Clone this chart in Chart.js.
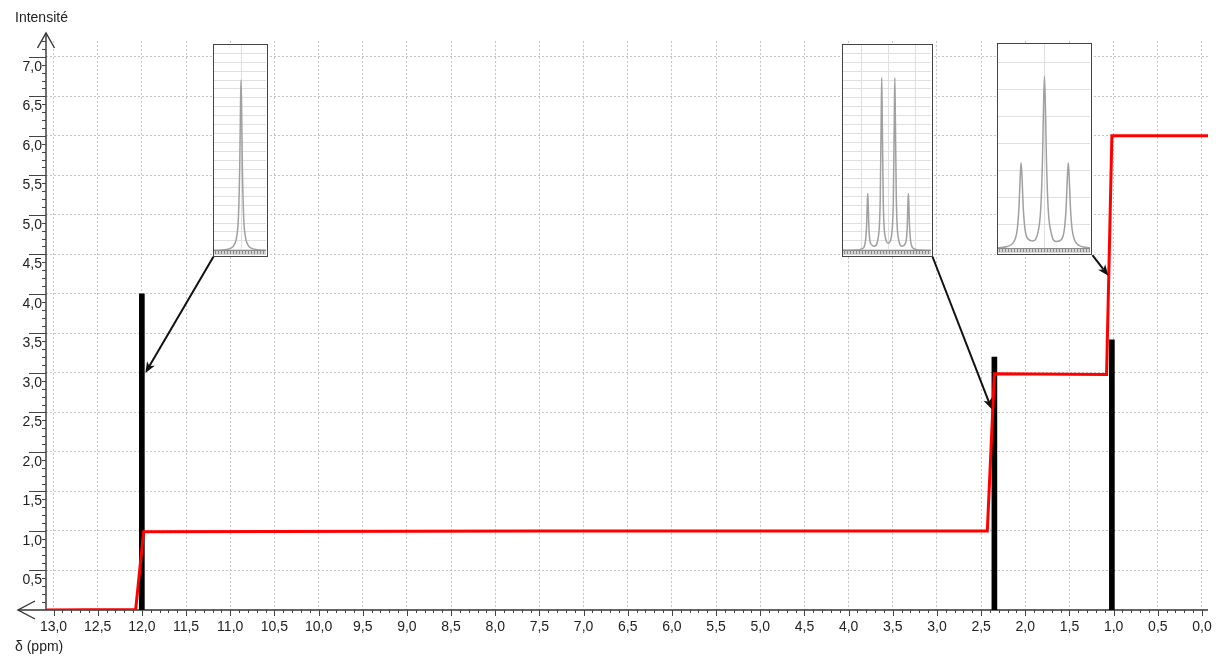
<!DOCTYPE html>
<html>
<head>
<meta charset="utf-8">
<title>Spectre RMN</title>
<script src="https://cdn.jsdelivr.net/npm/chart.js@4.4.0/dist/chart.umd.min.js"></script>
<style>
  html, body { margin: 0; padding: 0; background: #fff; }
  #wrap { position: relative; width: 1216px; height: 656px; overflow: hidden; }
  #main { position: absolute; left: 0; top: 0; }
  .inset { position: absolute; box-sizing: border-box; border: 1.5px solid #444; background: #fff; }
  .inset canvas { display: block; }
</style>
</head>
<body>
<div id="wrap"><canvas id="main" width="1216" height="656"></canvas></div>
<script>
// Axis tick values
const ppmTicks = [13.0, 12.5, 12.0, 11.5, 11.0, 10.5, 10.0, 9.5, 9.0, 8.5, 8.0, 7.5, 7.0,
                  6.5, 6.0, 5.5, 5.0, 4.5, 4.0, 3.5, 3.0, 2.5, 2.0, 1.5, 1.0, 0.5, 0.0];
const intensityTicks = [0.5, 1.0, 1.5, 2.0, 2.5, 3.0, 3.5, 4.0, 4.5, 5.0, 5.5, 6.0, 6.5, 7.0];

// Signals: chemical shift (ppm) and intensity
const signalShifts = [12.0, 2.35, 1.02];
const signalHeights = [4.0, 3.2, 3.42];

// Integration curve
const integralShifts = [13.08, 12.07, 11.98, 7.5, 2.43, 2.35, 1.08, 1.02, -0.07];
const integralValues = [0.0, 0.005, 0.99, 1.0, 1.0, 2.99, 2.98, 6.0, 6.0];

// Where each close-up arrow points (ppm, intensity)
const arrowShifts = [11.96, 2.38, 1.06];
const arrowValues = [3.0, 2.54, 4.23];

// Close-up of the singlet (relative position, relative intensity)
const singletX = [0, 17, 32, 40, 44, 47, 49.5, 51, 52, 53, 54.5, 57, 60, 64, 72, 87, 100];
const singletY = [0.002, 0.0042, 0.0128, 0.035, 0.074, 0.166, 0.415, 0.715, 0.83, 0.715, 0.415,
                  0.166, 0.074, 0.035, 0.0128, 0.0042, 0.002];

// Close-up of the quartet
const quartetX = [0, 15, 22, 25, 26.8, 27.6, 28.1, 28.6, 29.4, 31, 36, 40, 42.3, 43.4, 44.0, 44.6,
                  45.7, 48, 51.45, 54.9, 57.2, 58.3, 58.9, 59.5, 60.6, 63, 67, 71.5, 73, 73.8,
                  74.3, 74.8, 75.6, 77.4, 80.4, 87, 100];
const quartetY = [0.003, 0.004, 0.011, 0.034, 0.118, 0.232, 0.279, 0.232, 0.118, 0.041, 0.023, 0.064,
                  0.25, 0.648, 0.841, 0.648, 0.25, 0.068, 0.037, 0.068, 0.25, 0.648, 0.841, 0.648,
                  0.25, 0.061, 0.023, 0.043, 0.118, 0.232, 0.279, 0.232, 0.118, 0.034, 0.011,
                  0.004, 0.002];

// Close-up of the triplet
const tripletX = [0, 10, 16, 19, 21.1, 22.9, 24.1, 25.1, 26.1, 27.3, 29.1, 32, 37.8, 43, 46.5, 48.3,
                  49.5, 50.5, 51.5, 52.7, 54.5, 58, 63.45, 69, 72.4, 74.2, 75.4, 76.4, 77.4, 78.6,
                  80.4, 83, 88, 95, 100];
const tripletY = [0.005, 0.012, 0.027, 0.053, 0.102, 0.213, 0.349, 0.421, 0.351, 0.214, 0.106, 0.051,
                  0.039, 0.073, 0.2, 0.425, 0.699, 0.842, 0.699, 0.425, 0.2, 0.075, 0.036, 0.046,
                  0.105, 0.215, 0.35, 0.421, 0.35, 0.213, 0.101, 0.046, 0.017, 0.008, 0.005];

// Placement of the close-up boxes in chart coordinates, and their grids
const insetBoxes = [
  { xs: singletX, ys: singletY, ppmLeft: 11.19, ppmRight: 10.57, top: 7.16, bottom: 4.47,
    vlines: [52], gridTop: 0.96, gridStep: 0.0434, corner: 'left' },
  { xs: quartetX, ys: quartetY, ppmLeft: 4.08, ppmRight: 3.05, top: 7.16, bottom: 4.47,
    vlines: [21.2, 52, 82.7], gridTop: 0.96, gridStep: 0.0434, corner: 'right' },
  { xs: tripletX, ys: tripletY, ppmLeft: 2.32, ppmRight: 1.24, top: 7.18, bottom: 4.49,
    vlines: [50.5], gridTop: 0.912, gridStep: 0.1319, corner: 'right' }
];

const FONT = '14px "Liberation Sans", Arial, Helvetica, sans-serif';
const INK = '#222';
const fmt = v => v.toFixed(1).replace('.', ',');

// Axes with arrows, tick marks, labels and titles
const nmrAxes = {
  id: 'nmrAxes',
  beforeDatasetsDraw(chart) {
    const { ctx, chartArea: a, scales: { x, y } } = chart;
    const x0 = a.left, y0 = y.getPixelForValue(0);
    ctx.save();
    ctx.strokeStyle = '#333';
    ctx.lineWidth = 1.4;
    ctx.beginPath();
    ctx.moveTo(x0, y0); ctx.lineTo(x0, 33);
    ctx.moveTo(18, y0); ctx.lineTo(a.right, y0);
    ctx.stroke();
    // arrow heads
    ctx.beginPath();
    ctx.moveTo(x0 - 8.5, 48); ctx.lineTo(x0, 33); ctx.lineTo(x0 + 8.5, 48);
    ctx.moveTo(35, y0 - 9); ctx.lineTo(18, y0); ctx.lineTo(35, y0 + 9);
    ctx.stroke();
    // ticks
    ctx.lineWidth = 1;
    ctx.strokeStyle = '#444';
    ctx.beginPath();
    for (let k = 1; k <= 72; k++) {
      const py = Math.round(y.getPixelForValue(k / 10)) + 0.5;
      const major = k % 5 === 0;
      ctx.moveTo(major ? 29 : x0 - 4, py); ctx.lineTo(x0, py);
    }
    for (let k = 0; k <= 130; k++) {
      const px = Math.round(x.getPixelForValue(k / 10)) + 0.5;
      const major = k % 5 === 0;
      ctx.moveTo(px, y0); ctx.lineTo(px, y0 + (major ? 6 : 3));
    }
    ctx.stroke();
    ctx.restore();
  },
  afterDatasetsDraw(chart) {
    const { ctx, scales: { x, y } } = chart;
    ctx.save();
    ctx.strokeStyle = '#111';
    ctx.fillStyle = '#111';
    ctx.lineWidth = 2;
    insetBoxes.forEach((b, i) => {
      const sx = x.getPixelForValue(b.corner === 'left' ? b.ppmLeft : b.ppmRight);
      const sy = y.getPixelForValue(b.bottom);
      const tx = x.getPixelForValue(arrowShifts[i]);
      const ty = y.getPixelForValue(arrowValues[i]);
      const ang = Math.atan2(ty - sy, tx - sx);
      const L = 11, W = 4.5;
      const bx = tx - L * Math.cos(ang), by = ty - L * Math.sin(ang);
      ctx.beginPath();
      ctx.moveTo(sx, sy); ctx.lineTo(bx + 3 * Math.cos(ang), by + 3 * Math.sin(ang));
      ctx.stroke();
      ctx.beginPath();
      ctx.moveTo(tx, ty);
      ctx.lineTo(bx - W * Math.sin(ang), by + W * Math.cos(ang));
      ctx.lineTo(bx + 3 * Math.cos(ang), by + 3 * Math.sin(ang));
      ctx.lineTo(bx + W * Math.sin(ang), by - W * Math.cos(ang));
      ctx.closePath();
      ctx.fill();
    });
    ctx.restore();
  },
  afterDraw(chart) {
    const { ctx, chartArea: a, scales: { x, y } } = chart;
    ctx.save();
    ctx.font = FONT;
    ctx.fillStyle = INK;
    ctx.textBaseline = 'middle';
    ctx.textAlign = 'right';
    intensityTicks.forEach(v => ctx.fillText(fmt(v), 42, y.getPixelForValue(v) + 10));
    ctx.textAlign = 'center';
    ppmTicks.forEach(v => ctx.fillText(fmt(v), x.getPixelForValue(v), a.bottom + 17));
    ctx.textAlign = 'left';
    ctx.fillText('Intensité', 15, 18);
    ctx.fillText('δ (ppm)', 15, 647);
    ctx.restore();
  }
};

const mainChart = new Chart(document.getElementById('main'), {
  type: 'line',
  data: {
    datasets: [
      {
        type: 'line',
        label: 'Intégration',
        data: integralShifts.map((s, i) => ({ x: s, y: integralValues[i] })),
        borderColor: '#ff0000',
        borderWidth: 3,
        pointRadius: 0,
        tension: 0,
        fill: false,
        order: 0
      },
      {
        type: 'bar',
        label: 'Signaux',
        data: signalShifts.map((s, i) => ({ x: s, y: signalHeights[i] })),
        backgroundColor: '#000',
        borderWidth: 0,
        barThickness: 5,
        grouped: false,
        order: 1
      }
    ]
  },
  options: {
    responsive: false,
    animation: false,
    events: [],
    layout: { padding: { left: 0, top: 41, right: 8, bottom: 0 } },
    plugins: { legend: { display: false }, tooltip: { enabled: false } },
    scales: {
      x: {
        type: 'linear',
        reverse: true,
        offset: false,
        min: -0.068,
        max: 13.085,
        ticks: { display: false },
        border: { display: false, dash: [2, 2] },
        grid: { color: '#c6c6c6', lineWidth: 1, drawTicks: false, offset: false },
        afterBuildTicks: s => { s.ticks = ppmTicks.map(v => ({ value: v })); },
        afterFit: s => { s.height = 46; }
      },
      y: {
        type: 'linear',
        min: 0,
        max: 7.2,
        ticks: { display: false },
        border: { display: false, dash: [2, 2] },
        grid: { color: '#c6c6c6', lineWidth: 1, drawTicks: false },
        afterBuildTicks: s => { s.ticks = intensityTicks.map(v => ({ value: v })); },
        afterFit: s => { s.width = 46; }
      }
    }
  },
  plugins: [nmrAxes]
});

// Hatched frequency strip along the bottom of each close-up
const insetStrip = {
  id: 'insetStrip',
  afterDraw(chart) {
    const { ctx, width: W, height: H } = chart;
    ctx.save();
    ctx.fillStyle = '#d4d4d4';
    ctx.fillRect(0, H - 4, W, 4);
    ctx.strokeStyle = '#8a8a8a';
    ctx.lineWidth = 1;
    ctx.beginPath();
    ctx.moveTo(0, H - 4.5); ctx.lineTo(W, H - 4.5);
    for (let px = 1.5; px < W; px += 3) { ctx.moveTo(px, H - 4); ctx.lineTo(px, H - 1); }
    ctx.stroke();
    ctx.restore();
  }
};

// Close-up boxes, placed from the main chart's scales
(function buildInsets() {
  const wrap = document.getElementById('wrap');
  const xs = mainChart.scales.x, ys = mainChart.scales.y;
  insetBoxes.forEach(b => {
    const left = Math.round(xs.getPixelForValue(b.ppmLeft));
    const right = Math.round(xs.getPixelForValue(b.ppmRight));
    const top = Math.round(ys.getPixelForValue(b.top));
    const bottom = Math.round(ys.getPixelForValue(b.bottom));
    const div = document.createElement('div');
    div.className = 'inset';
    div.style.left = left + 'px';
    div.style.top = top + 'px';
    div.style.width = (right - left) + 'px';
    div.style.height = (bottom - top) + 'px';
    const cv = document.createElement('canvas');
    cv.width = right - left - 3;
    cv.height = bottom - top - 3;
    div.appendChild(cv);
    wrap.appendChild(div);
    const gridVals = [];
    for (let v = b.gridTop; v > -0.015; v -= b.gridStep) gridVals.push(v);
    new Chart(cv, {
      type: 'line',
      data: {
        datasets: [{
          data: b.xs.map((xv, k) => ({ x: xv, y: b.ys[k] })),
          borderColor: '#a0a0a0',
          borderWidth: 1.5,
          pointRadius: 0,
          cubicInterpolationMode: 'monotone',
          fill: false
        }]
      },
      options: {
        responsive: false,
        animation: false,
        events: [],
        layout: { padding: 0 },
        plugins: { legend: { display: false }, tooltip: { enabled: false } },
        scales: {
          x: {
            type: 'linear', min: 0, max: 100,
            ticks: { display: false },
            border: { display: false },
            grid: { color: '#e0e0e0', drawTicks: false },
            afterBuildTicks: s => { s.ticks = b.vlines.map(v => ({ value: v })); },
            afterFit: s => { s.height = 0; }
          },
          y: {
            type: 'linear', min: -0.02, max: 1.0,
            ticks: { display: false },
            border: { display: false },
            grid: { color: '#e0e0e0', drawTicks: false },
            afterBuildTicks: s => { s.ticks = gridVals.map(v => ({ value: v })); },
            afterFit: s => { s.width = 0; }
          }
        }
      },
      plugins: [insetStrip]
    });
  });
})();
</script>
</body>
</html>
